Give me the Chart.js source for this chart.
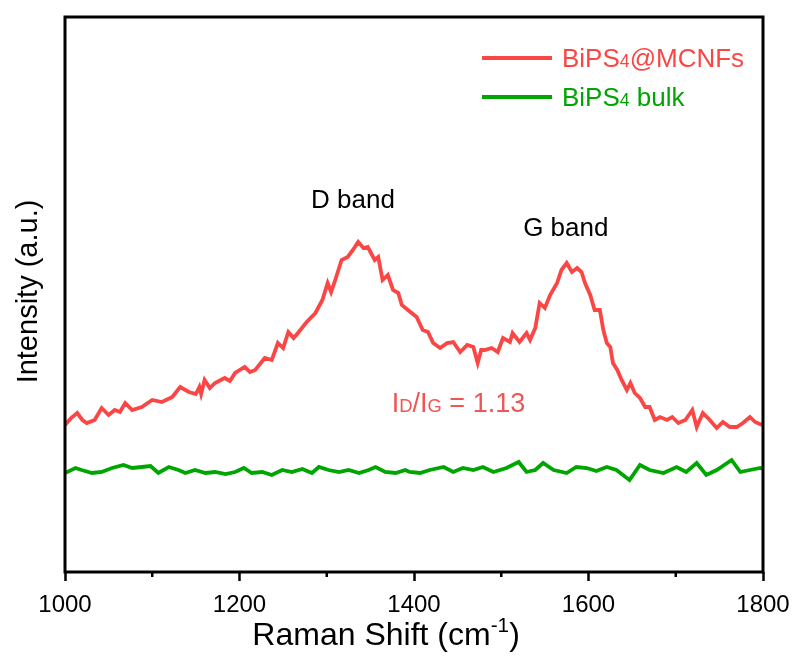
<!DOCTYPE html>
<html>
<head>
<meta charset="utf-8">
<script src="https://cdn.jsdelivr.net/npm/chart.js@4.4.0/dist/chart.umd.min.js"></script>
<style>
  html, body { margin: 0; padding: 0; background: #fff; }
  #wrap { width: 796px; height: 659px; }
</style>
</head>
<body>
<div id="wrap"><canvas id="raman" width="796" height="659"></canvas></div>
<script>
/* Raman spectra, intensity in arbitrary units */
const ramanComposite = [1000,1007,1014,1020,1025,1034,1042,1050,1057,1063,1069,1077,1088,1100,1111,1123,1132,1142,1150,1154,1156,1160,1166,1172,1183,1189,1195,1206,1212,1218,1229,1237,1244,1250,1256,1262,1267,1277,1287,1295,1301,1305,1309,1317,1324,1330,1336,1342,1347,1355,1359,1364,1370,1376,1382,1386,1393,1403,1410,1416,1422,1430,1438,1445,1453,1461,1468,1473,1477,1481,1489,1496,1502,1510,1513,1521,1529,1533,1539,1544,1550,1556,1564,1569,1575,1581,1587,1592,1596,1602,1607,1613,1617,1621,1625,1628,1633,1638,1644,1648,1653,1659,1665,1670,1676,1682,1690,1696,1703,1711,1719,1724,1731,1739,1747,1754,1762,1770,1777,1785,1791,1799];
const intensityComposite = [147,154,159,152,149,152,164,157,162,160,169,162,165,172,170,175,185,180,178,185,178,192,184,189,194,191,199,205,200,202,214,212,229,224,240,234,239,250,259,272,289,280,290,312,315,322,330,324,325,312,315,292,297,282,279,267,262,255,242,240,229,224,229,230,220,227,225,209,222,222,224,220,234,230,239,230,239,232,244,269,264,277,289,302,309,300,304,300,289,277,262,262,242,229,225,209,202,192,182,189,179,174,165,165,152,155,152,155,149,152,162,145,159,152,144,150,145,145,149,155,150,147];

const ramanBulk = [1000,1012,1019,1031,1042,1054,1067,1077,1088,1098,1107,1119,1130,1138,1149,1161,1172,1184,1195,1205,1214,1226,1237,1249,1260,1272,1283,1291,1302,1314,1325,1337,1348,1356,1367,1379,1390,1395,1407,1418,1434,1445,1456,1468,1479,1491,1506,1520,1529,1539,1548,1560,1575,1586,1598,1609,1621,1632,1647,1659,1670,1686,1701,1712,1724,1735,1747,1764,1774,1785,1797,1800];
const intensityBulk = [99,104,102,99,100,104,107,104,105,106,99,105,102,99,102,99,100,98,100,104,99,100,97,102,100,103,99,105,102,100,102,99,102,105,100,99,102,100,99,102,105,100,104,102,105,100,104,110,100,102,109,102,99,105,104,101,105,102,92,107,102,99,105,100,109,97,102,112,100,102,104,103];

const seriesNames = ['BiPS4@MCNFs', 'BiPS4 bulk'];
const xTicksMajor = [1000, 1200, 1400, 1600, 1800];
const xTicksMinor = [1100, 1300, 1500, 1700];

const RED   = '#fb4646';
const GREEN = '#00a600';
const FONT  = "'Liberation Sans', Arial, sans-serif";

function pairs(xs, ys) {
  return xs.map((x, i) => ({ x: x, y: ys[i] }));
}

/* draws text made of runs: [text, sizeFactor, baselineShift] */
function drawRuns(ctx, runs, x, y, size, align) {
  let total = 0;
  runs.forEach(r => {
    ctx.font = (size * r[1]) + 'px ' + FONT;
    total += ctx.measureText(r[0]).width;
  });
  let cx = align === 'center' ? x - total / 2 : x;
  ctx.textAlign = 'left';
  ctx.textBaseline = 'alphabetic';
  runs.forEach(r => {
    ctx.font = (size * r[1]) + 'px ' + FONT;
    ctx.fillText(r[0], cx, y + r[2] * size);
    cx += ctx.measureText(r[0]).width;
  });
}

const decorations = {
  id: 'decorations',
  afterDraw(chart) {
    const ctx = chart.ctx;
    const a = chart.chartArea;
    const xs = chart.scales.x, ys = chart.scales.y;
    ctx.save();

    /* frame */
    ctx.strokeStyle = '#000';
    ctx.lineWidth = 3;
    ctx.strokeRect(a.left, a.top, a.right - a.left, a.bottom - a.top);

    /* minor ticks */
    ctx.lineWidth = 2.5;
    xTicksMinor.forEach(v => {
      const px = xs.getPixelForValue(v);
      ctx.beginPath();
      ctx.moveTo(px, a.bottom);
      ctx.lineTo(px, a.bottom + 5);
      ctx.stroke();
    });

    /* legend */
    const lx = a.right - 281, ly = a.top + 41;
    [[RED, 0], [GREEN, 1]].forEach(([col, i]) => {
      const yy = ly + i * 39;
      ctx.strokeStyle = col;
      ctx.lineWidth = 4;
      ctx.beginPath();
      ctx.moveTo(lx, yy);
      ctx.lineTo(lx + 70, yy);
      ctx.stroke();
      ctx.fillStyle = col;
      const rest = seriesNames[i].replace('BiPS4', '');
      drawRuns(ctx, [['BiPS', 1, 0], ['4', 0.68, 0], [rest, 1, 0]], lx + 80, yy + 9, 26, 'left');
    });

    /* band labels */
    ctx.fillStyle = '#000';
    drawRuns(ctx, [['D band', 1, 0]], xs.getPixelForValue(1330), ys.getPixelForValue(364), 26, 'center');
    drawRuns(ctx, [['G band', 1, 0]], xs.getPixelForValue(1574), ys.getPixelForValue(336), 26, 'center');
    ctx.fillStyle = '#f05656';
    drawRuns(ctx, [['I', 1, 0], ['D', 0.68, 0], ['/I', 1, 0], ['G', 0.68, 0], [' = 1.13', 1, 0]],
      xs.getPixelForValue(1451), ys.getPixelForValue(160), 27, 'center');

    /* axis titles */
    ctx.fillStyle = '#000';
    drawRuns(ctx, [['Raman Shift (cm', 1, 0], ['-1', 0.65, -0.42], [')', 1, 0]],
      xs.getPixelForValue(1368), a.bottom + 73, 32, 'center');
    ctx.translate(a.left - 28, (a.top + a.bottom) / 2 - 3);
    ctx.rotate(-Math.PI / 2);
    drawRuns(ctx, [['Intensity (a.u.)', 1, 0]], 0, 0, 29, 'center');

    ctx.restore();
  }
};

new Chart(document.getElementById('raman'), {
  type: 'line',
  data: {
    datasets: [
      {
        label: seriesNames[0],
        data: pairs(ramanComposite, intensityComposite),
        borderColor: RED,
        borderWidth: 3.8,
        pointRadius: 0,
        tension: 0,
      },
      {
        label: seriesNames[1],
        data: pairs(ramanBulk, intensityBulk),
        borderColor: GREEN,
        borderWidth: 3.8,
        pointRadius: 0,
        tension: 0,
      },
    ],
  },
  options: {
    responsive: false,
    animation: false,
    layout: { padding: { left: 65, top: 17, right: 33, bottom: 0 } },
    scales: {
      x: {
        type: 'linear',
        min: 1000, max: 1800,
        afterBuildTicks: (s) => { s.ticks = xTicksMajor.map(v => ({ value: v })); },
        afterFit: (s) => { s.height = 87; s.paddingLeft = 0; s.paddingRight = 0; },
        ticks: {
          color: '#000', font: { family: FONT, size: 24 }, padding: 10, maxRotation: 0,
          callback: (v) => String(v),
        },
        grid: { drawOnChartArea: false, tickLength: 9, tickWidth: 2.5, tickColor: '#000' },
        border: { display: false },
      },
      y: {
        display: false,
        min: 0, max: 555,
      },
    },
    plugins: {
      legend: { display: false },
      tooltip: { enabled: false },
    },
  },
  plugins: [decorations],
});
</script>
</body>
</html>
